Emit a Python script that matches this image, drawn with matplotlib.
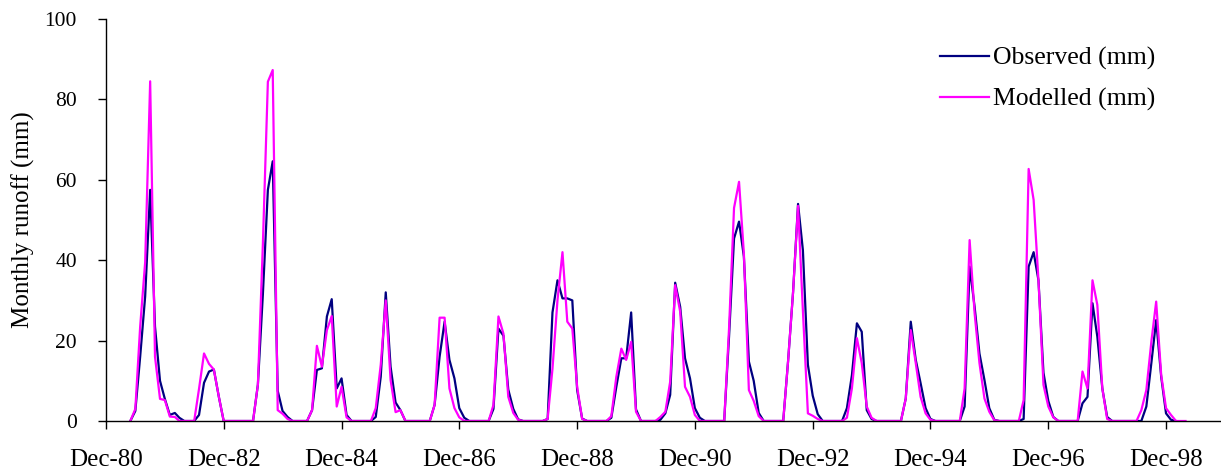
"""Observed and modelled monthly runoff, May 1981 - April 1999."""

import matplotlib
import matplotlib.dates as mdates
import numpy as np
import pandas as pd

matplotlib.use("Agg")
import matplotlib.pyplot as plt  # noqa: E402

# Monthly runoff in mm, one row per hydrological year (May - April).
observed = [
    0, 2.5, 16, 31, 57.5, 23.5, 10, 5.5, 1.5, 2, 0.8, 0,
    0, 0, 1.5, 9.5, 12.3, 12.8, 6, 0, 0, 0, 0, 0,
    0, 0, 9, 31.5, 57.5, 64.6, 7.5, 2.5, 1, 0, 0, 0,
    0, 2.7, 12.7, 13.1, 26, 30.3, 8.1, 10.6, 1.5, 0, 0, 0,
    0, 0, 1, 11, 32, 13.5, 4.6, 2.7, 0, 0, 0, 0,
    0, 0, 4, 16, 24.7, 15.2, 10.6, 3.2, 0.8, 0, 0, 0,
    0, 0, 3, 23, 21.2, 7.8, 3, 0.4, 0, 0, 0, 0,
    0, 0.5, 27, 35, 30.5, 30.5, 30, 7.7, 0.6, 0, 0, 0,
    0, 0, 0.8, 8.5, 15.6, 15.6, 27, 2.9, 0, 0, 0, 0,
    0.3, 1.9, 6.5, 34.4, 28.4, 15.6, 10.6, 3.2, 0.8, 0, 0, 0,
    0, 0, 21, 45.4, 49.6, 40.9, 14.8, 10, 2, 0, 0, 0,
    0, 0, 14.8, 32, 54, 42.5, 14, 6.3, 1.7, 0, 0, 0,
    0, 0, 3.2, 11.4, 24.3, 22.2, 2.7, 0.5, 0, 0, 0, 0,
    0, 0, 5.6, 24.7, 15.2, 9.4, 3.2, 0.5, 0, 0, 0, 0,
    0, 0, 3.6, 38.4, 28.4, 16.8, 10.2, 3.2, 0.3, 0, 0, 0,
    0, 0, 0.5, 38.4, 42, 35, 12, 5, 1, 0, 0, 0,
    0, 0, 4.4, 6, 29.3, 21, 8.1, 1, 0, 0, 0, 0,
    0, 0, 0, 3.6, 14.4, 25.1, 11, 1.9, 0.3, 0,
]
modelled = [
    0, 3, 23.5, 39.5, 84.5, 16, 5.5, 5.2, 1.1, 1, 0, 0,
    0, 0, 8, 16.8, 14.2, 12.8, 6, 0, 0, 0, 0, 0,
    0, 0, 9, 44, 84.4, 87.3, 2.7, 1.8, 0.5, 0, 0, 0,
    0, 2.7, 18.7, 13.5, 22.6, 26.1, 3.6, 8.5, 0.9, 0, 0, 0,
    0, 0, 3.2, 14, 30, 10.2, 2.2, 2.7, 0, 0, 0, 0,
    0, 0, 4, 25.7, 25.7, 8.1, 3.2, 0.9, 0, 0, 0, 0,
    0, 0, 4, 26, 21.7, 6, 2, 0.3, 0, 0, 0, 0,
    0, 0.5, 13, 30, 42, 24.7, 23, 8.5, 0.5, 0, 0, 0,
    0, 0, 1.2, 11, 18, 15.2, 19.7, 2.3, 0, 0, 0, 0,
    1, 2.3, 9.8, 33.8, 27.2, 8.5, 6, 1.5, 0, 0, 0, 0,
    0, 0, 23, 53, 59.5, 41.7, 7.7, 5, 1.2, 0, 0, 0,
    0, 0, 14.8, 32, 53.5, 27.5, 1.9, 1.3, 0.5, 0, 0, 0,
    0, 0, 0.8, 8.1, 20.6, 14.4, 3.6, 0.8, 0, 0, 0, 0,
    0, 0, 5.6, 22.6, 14.4, 6, 1.9, 0.3, 0, 0, 0, 0,
    0, 0, 8.1, 45, 26.8, 14.4, 5.6, 2.3, 0.2, 0, 0, 0,
    0, 0, 5.2, 62.7, 55, 35, 9, 3.6, 0.9, 0, 0, 0,
    0, 0, 12.3, 8.1, 35, 28.9, 8.1, 0.5, 0, 0, 0, 0,
    0, 0, 2.7, 7.7, 19.7, 29.7, 11.5, 3.2, 1.5, 0, 0, 0,
]
first_month = "1981-05-01"
tick_dates = pd.date_range("1980-12-01", "1998-12-01", freq="24MS")

observed_dates = pd.date_range(first_month, periods=len(observed), freq="MS")
modelled_dates = pd.date_range(first_month, periods=len(modelled), freq="MS")

plt.rcParams["font.family"] = ["Liberation Serif", "DejaVu Serif"]

figure = plt.figure(figsize=(12.21, 4.75), dpi=100)
axes = figure.add_axes([0.0868, 0.1137, 0.9132, 0.8463])

axes.plot(observed_dates, observed, color="#000080", linewidth=1.6,
          label="Observed (mm)")
axes.plot(modelled_dates, modelled, color="#FF00FF", linewidth=1.6,
          label="Modelled (mm)")

axes.set_xlim(pd.Timestamp("1980-12-01"), pd.Timestamp("1999-11-07"))
axes.set_ylim(0, 100)
axes.set_yticks(np.arange(0, 101, 20))
axes.set_xticks(tick_dates)
axes.xaxis.set_major_formatter(mdates.DateFormatter("%b-%y"))

for side in ("top", "right"):
    axes.spines[side].set_visible(False)
for side in ("left", "bottom"):
    axes.spines[side].set_linewidth(1.0)

axes.tick_params(axis="x", direction="out", length=6, width=1.0,
                 labelsize=18, pad=14)
axes.tick_params(axis="y", direction="out", length=6, width=1.0,
                 labelsize=15.5, pad=15)

axes.set_ylabel("Monthly runoff (mm)", fontsize=18)
axes.yaxis.set_label_coords(-0.064, 0.5)

axes.legend(
    loc="upper left",
    bbox_to_anchor=(940 / 1221, 1 - 47 / 475),
    bbox_transform=figure.transFigure,
    frameon=False,
    fontsize=18.5,
    handlelength=1.9,
    handletextpad=0.15,
    labelspacing=0.67,
    borderpad=0,
    borderaxespad=0,
)

figure.savefig("out.png", dpi=100)
